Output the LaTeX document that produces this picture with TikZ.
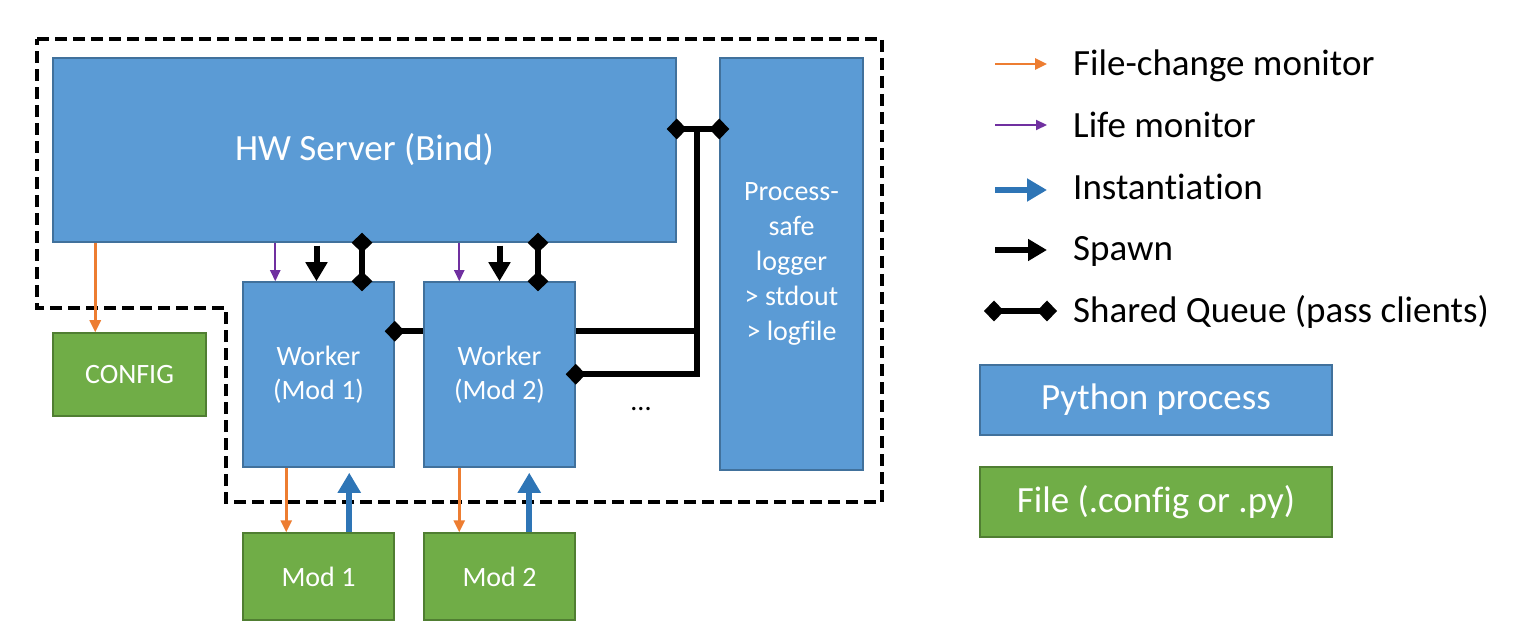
\documentclass[tikz,border=0pt]{standalone}
\usepackage{fontspec}
\setmainfont{Carlito}[Ligatures=NoCommon]
\usetikzlibrary{arrows.meta}
\definecolor{pyfill}{HTML}{5B9BD5}
\definecolor{pyline}{HTML}{41719C}
\definecolor{filefill}{HTML}{70AD47}
\definecolor{fileline}{HTML}{507E32}
\definecolor{orangec}{HTML}{ED7D31}
\definecolor{purplec}{HTML}{7030A0}
\definecolor{instc}{HTML}{2E75B6}
\tikzset{
  pybox/.style={draw=pyline, fill=pyfill, line width=1.5pt, text=white, align=center, inner sep=0pt},
  filebox/.style={draw=fileline, fill=filefill, line width=1.5pt, text=white, align=center, inner sep=0pt},
  bigtxt/.style={font=\fontsize{37}{44}\selectfont},
  smalltxt/.style={font=\fontsize{28}{34}\selectfont},
  loggertxt/.style={font=\fontsize{28}{34.8}\selectfont},
  fcm/.style={draw=orangec, line width=2.5pt, -{Triangle[length=12pt,width=11pt]}},
  life/.style={draw=purplec, line width=2pt, -{Triangle[length=11pt,width=10pt]}},
  inst/.style={draw=instc, line width=6pt, -{Triangle[length=20pt,width=22pt]}},
  spawnarr/.style={draw=black, line width=6pt, -{Triangle[length=19pt,width=21pt]}},
  dtip/.tip={Diamond[length=20pt,width=21pt]},
  queue/.style={draw=black, line width=6pt, {dtip}-{dtip}, shorten <=-10pt, shorten >=-10pt},
  queuestart/.style={draw=black, line width=6pt, {dtip}-, shorten <=-10pt},
  queueend/.style={draw=black, line width=6pt, -{dtip}, shorten >=-10pt},
  queueplain/.style={draw=black, line width=6pt},
  boundary/.style={draw=black, line width=3.5pt, dash pattern=on 12pt off 6pt},
  legtxt/.style={bigtxt, anchor=base west, inner sep=0pt},
}
\begin{document}
\begin{tikzpicture}[x=1pt,y=-1pt]
\useasboundingbox (0,0) rectangle (1537,644);
% process boundary
\draw[boundary] (37,39) -- (882,39) -- (882,502) -- (226,502) -- (226,308) -- (37,308) -- cycle;

% boxes
\node[pybox, bigtxt, minimum width=623pt, minimum height=184pt] (hw) at (364.5,150) {HW Server (Bind)};
\node[pybox, loggertxt, minimum width=143pt, minimum height=412pt] (logger) at (791.5,264) {Process-\\safe\\logger\\> stdout\\> logfile};
\node[pybox, smalltxt, minimum width=151pt, minimum height=185pt] (w1) at (318.5,374.5) {Worker\\(Mod 1)};
\node[pybox, smalltxt, minimum width=151pt, minimum height=185pt] (w2) at (499.5,374.5) {Worker\\(Mod 2)};
\node[filebox, smalltxt, minimum width=153pt, minimum height=83pt] (config) at (129.5,374.5) {CONFIG};
\node[filebox, smalltxt, minimum width=151pt, minimum height=87pt] (m1) at (318.5,576.5) {Mod 1};
\node[filebox, smalltxt, minimum width=151pt, minimum height=87pt] (m2) at (499.5,576.5) {Mod 2};
\node[smalltxt, inner sep=0pt] (dots) at (641,409) {...};

% file-change monitors
\draw[fcm] ([xshift=43pt]hw.south west) -- ([xshift=43pt]config.north west);
\draw[fcm] ([xshift=44pt]w1.south west) -- ([xshift=44pt]m1.north west);
\draw[fcm] ([xshift=36pt]w2.south west) -- ([xshift=36pt]m2.north west);
% life monitors
\draw[life] ([xshift=33pt]w1.north west |- hw.south) -- ([xshift=33pt]w1.north west);
\draw[life] ([xshift=36pt]w2.north west |- hw.south) -- ([xshift=36pt]w2.north west);
% spawn
\draw[spawnarr, shorten <=3pt] ([xshift=-2pt]w1.north |- hw.south) -- ([xshift=-2pt]w1.north);
\draw[spawnarr, shorten <=3pt] (w2.north |- hw.south) -- (w2.north);
% instantiation
\draw[inst, shorten >=5pt] ([xshift=107pt]m1.north west) -- ([xshift=107pt]w1.south west);
\draw[inst, shorten >=5pt] ([xshift=106pt]m2.north west) -- ([xshift=106pt]w2.south west);
% shared queues
\draw[queue] ([xshift=43.5pt]w1.north |- hw.south) -- ([xshift=43.5pt]w1.north);
\draw[queue] ([xshift=38.5pt]w2.north |- hw.south) -- ([xshift=38.5pt]w2.north);
\draw[queuestart] ([yshift=-50pt]w1.north east) -- ([yshift=-50pt]w2.north west);
\coordinate (jt) at (697,129);
\coordinate (w2hi) at ([yshift=-50pt]w2.north east);
\coordinate (w2lo) at ([yshift=-93pt]w2.north east);
\draw[queue] (hw.east |- jt) -- (logger.west |- jt);
\draw[queueend, line join=miter] (jt) -- (jt |- w2lo) -- (w2lo);
\draw[queueplain] (w2hi) -- (jt |- w2hi);

% legend
\coordinate (l1a) at (995,64);  \coordinate (l1b) at (1047,64);
\coordinate (l2a) at (995,125); \coordinate (l2b) at (1047,125);
\coordinate (l3a) at (995,190); \coordinate (l3b) at (1047,190);
\coordinate (l4a) at (995,250); \coordinate (l4b) at (1047,250);
\coordinate (l5a) at (994,311); \coordinate (l5b) at (1047,311);
\draw[fcm] (l1a) -- (l1b);
\draw[life] (l2a) -- (l2b);
\draw[inst] (l3a) -- (l3b);
\draw[spawnarr] (l4a) -- (l4b);
\draw[queue] (l5a) -- (l5b);
\node[legtxt] (t1) at (1073,76) {File-change monitor};
\node[legtxt] (t2) at (1073,138) {Life monitor};
\node[legtxt] (t3) at (1073,200) {Instantiation};
\node[legtxt] (t4) at (1073,261) {Spawn};
\node[legtxt] (t5) at (1073,323) {Shared Queue (pass clients)};
\node[pybox, bigtxt, minimum width=352pt, minimum height=70pt] (lpy) at (1156,400) {Python process};
\node[filebox, bigtxt, minimum width=352pt, minimum height=70pt] (lfile) at (1156,502) {File (.config or .py)};
\end{tikzpicture}
\end{document}
